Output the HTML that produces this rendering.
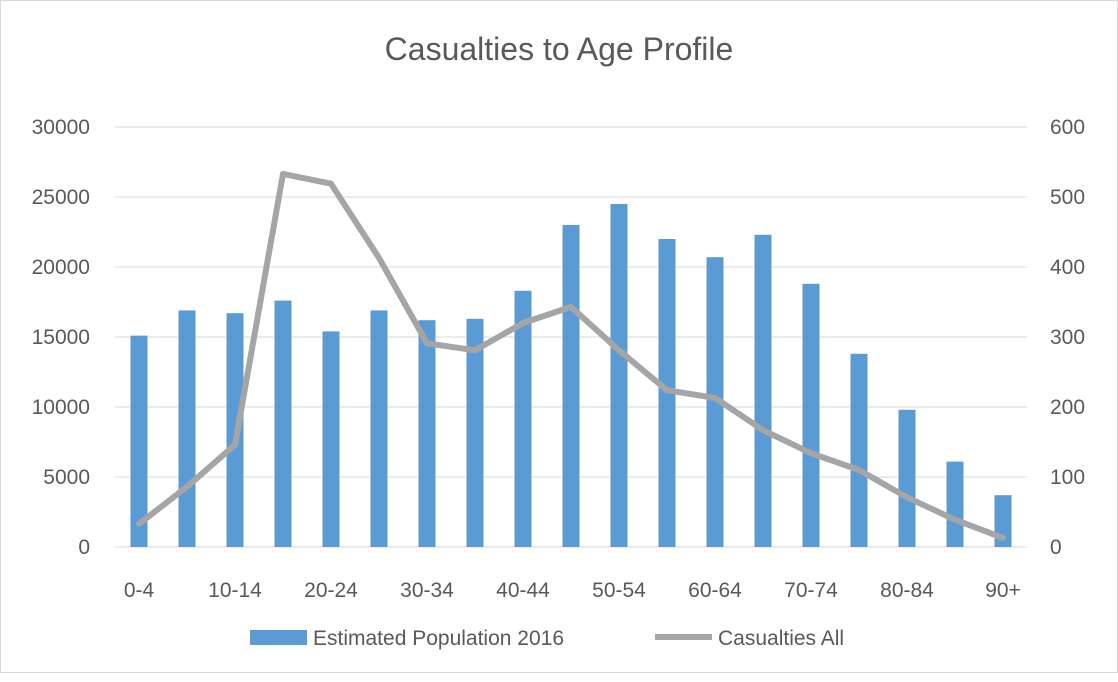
<!DOCTYPE html>
<html><head><meta charset="utf-8"><style>
body{margin:0;background:#fff;}
svg text{font-family:"Liberation Sans",sans-serif;fill:#595959;}
</style></head><body>
<svg id="chart" width="1118" height="677" viewBox="0 0 1118 677" xmlns="http://www.w3.org/2000/svg">
<rect x="0.5" y="0.5" width="1117" height="672" fill="#fff" stroke="#d9d9d9"/>
<text x="559" y="60" font-size="32" text-anchor="middle">Casualties to Age Profile</text>
<g id="grid"></g><g id="bars"></g><g id="line"></g><g id="axes"></g>
<g>
<rect x="250" y="630" width="57" height="15" fill="#5b9bd5"/>
<text x="313" y="645" font-size="21">Estimated Population 2016</text>
<line x1="655" y1="637" x2="712" y2="637" stroke="#a5a5a5" stroke-width="6"/>
<text x="718" y="645" font-size="21">Casualties All</text>
</g>
</svg>
<script>
const categories=["0-4","5-9","10-14","15-19","20-24","25-29","30-34","35-39","40-44","45-49","50-54","55-59","60-64","65-69","70-74","75-79","80-84","85-89","90+"];
const population=[15100,16900,16700,17600,15400,16900,16200,16300,18300,23000,24500,22000,20700,22300,18800,13800,9800,6100,3700];
const casualties=[33,86,146,533,519,413,291,281,320,343,281,224,213,167,134,110,71,39,13];
const leftTicks=[0,5000,10000,15000,20000,25000,30000];
const rightTicks=[0,100,200,300,400,500,600];
const NS="http://www.w3.org/2000/svg";
const x0=115,step=48,yB=547,yT=127;
const xC=i=>x0+step*(i+0.5);
const yL=v=>yB-(v/30000)*(yB-yT);
const yR=v=>yB-(v/600)*(yB-yT);
function mk(t,a,p){const e=document.createElementNS(NS,t);for(const k in a)e.setAttribute(k,a[k]);p.appendChild(e);return e;}
const grid=document.getElementById('grid'),bars=document.getElementById('bars'),line=document.getElementById('line'),axes=document.getElementById('axes');
leftTicks.forEach((v,i)=>{
 const g=mk('line',{x1:x0,x2:x0+step*19,y1:yL(v),y2:yL(v),stroke:'#d9d9d9','stroke-width':1},grid);
 
 
 const t=mk('text',{x:90,y:yL(v)+7,'font-size':21,'text-anchor':'end'},axes);t.textContent=v;
 
 
});
rightTicks.forEach(v=>{
 const t=mk('text',{x:1050,y:yR(v)+7,'font-size':21},axes);t.textContent=v;
 
 
});
population.forEach((v,i)=>{
 const b=mk('rect',{x:xC(i)-8.5,y:yL(v),width:17,height:yB-yL(v),fill:'#5b9bd5'},bars);
 
 
});
categories.forEach((c,i)=>{
 if(i%2)return;
 const t=mk('text',{x:xC(i),y:597,'font-size':21,'text-anchor':'middle'},axes);t.textContent=c;
 
 
});
const pl=mk('polyline',{points:casualties.map((v,i)=>xC(i)+','+yR(v)).join(' '),fill:'none',stroke:'#a5a5a5','stroke-width':6,'stroke-linejoin':'round','stroke-linecap':'round'},line);


</script>
</body></html>
